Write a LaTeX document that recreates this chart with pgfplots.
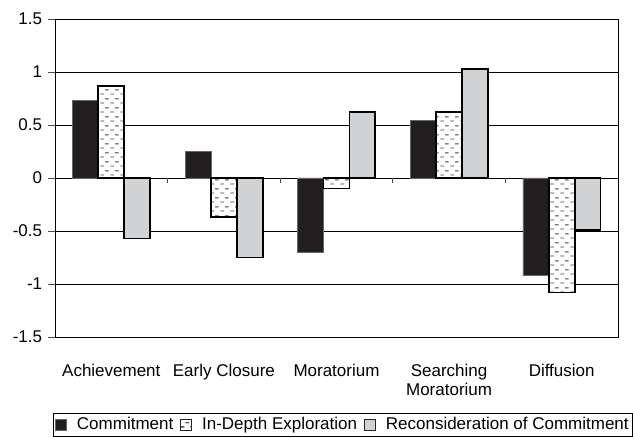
\documentclass[border=0pt]{standalone}
\usepackage{fontspec}
\setmainfont{Liberation Sans}
\usepackage{pgfplots}
\pgfplotsset{compat=1.18}
\usetikzlibrary{patterns}
\definecolor{cdark}{RGB}{35,31,32}
\definecolor{clight}{RGB}{208,210,211}
\pgfdeclarepatternformonly{dashrows}{\pgfqpoint{0pt}{0pt}}{\pgfqpoint{10pt}{9pt}}{\pgfqpoint{10pt}{9pt}}{%
 \pgfsetlinewidth{0.9pt}%
 \pgfpathmoveto{\pgfqpoint{0.5pt}{2.25pt}}\pgfpathlineto{\pgfqpoint{4.5pt}{2.25pt}}%
 \pgfpathmoveto{\pgfqpoint{5.5pt}{6.75pt}}\pgfpathlineto{\pgfqpoint{9.5pt}{6.75pt}}%
 \pgfusepath{stroke}}
\begin{document}
\fontsize{17}{20}\selectfont
\begin{tikzpicture}
\useasboundingbox (0,0) rectangle (633pt,438pt);
\begin{axis}[
 at={(55pt,101pt)}, anchor=south west, width=563pt, height=318pt, scale only axis,
 xmin=-0.5, xmax=4.5, ymin=-1.5, ymax=1.5,
 xtick={0,1,2,3,4},
 xticklabels={Achievement, Early Closure, Moratorium, {Searching\\Moratorium}, Diffusion},
 every tick label/.append style={font=\fontsize{17}{19}\selectfont},
 x tick label style={align=center, yshift=-14pt},
 xtick style={draw=none},
 ytick={-1.5,-1,-0.5,0,0.5,1,1.5},
 yticklabels={-1.5,-1,-0.5,0,0.5,1,1.5},
 ytick pos=left, tick align=outside, major tick length=7pt,
 ytick style={black!70, line width=0.8pt},
 ymajorgrids, grid style={black, line width=0.8pt},
 axis line style={black, line width=0.8pt},
 bar width=0.23,
 legend columns=-1,
 legend style={at={(-0.0036,-0.239)}, anchor=north west, draw=black, line width=0.8pt,
   font=\fontsize{17}{19}\selectfont, inner sep=2pt,
   /tikz/every even column/.append style={column sep=5pt},
   /tikz/every odd column/.append style={column sep=8pt}},
 legend cell align=left,
]
\addplot[ybar, bar shift=-0.23, fill=cdark, draw=black!60, line width=0.6pt,
  legend image code/.code={\draw[fill=cdark, draw=black!60, line width=0.6pt] (0pt,-5.5pt) rectangle (11pt,5.5pt);}]
 coordinates {(0,0.73) (1,0.25) (2,-0.70) (3,0.54) (4,-0.92)};
\addlegendentry{Commitment}
\addplot[ybar, bar shift=0, fill=white, draw=black, /tikz/line width=1.8pt,
  postaction={pattern=dashrows, pattern color=black!75},
  legend image code/.code={\draw[fill=white, draw=black!85, line width=0.8pt, postaction={pattern=dashrows, pattern color=black!75}] (0pt,-5.5pt) rectangle (11pt,5.5pt);}]
 coordinates {(0,0.87) (1,-0.37) (2,-0.10) (3,0.62) (4,-1.08)};
\addlegendentry{In-Depth Exploration}
\addplot[ybar, bar shift=0.23, fill=clight, draw=black, /tikz/line width=1.8pt,
  legend image code/.code={\draw[fill=clight, draw=black!85, line width=0.8pt] (0pt,-5.5pt) rectangle (11pt,5.5pt);}]
 coordinates {(0,-0.57) (1,-0.75) (2,0.62) (3,1.03) (4,-0.49)};
\addlegendentry{Reconsideration of Commitment}
\pgfplotsinvokeforeach{0.5,1.5,2.5,3.5}{\draw[black!70, line width=0.8pt] (axis cs:#1,0) -- ([yshift=-5pt]axis cs:#1,0);}
\end{axis}
\end{tikzpicture}
\end{document}
